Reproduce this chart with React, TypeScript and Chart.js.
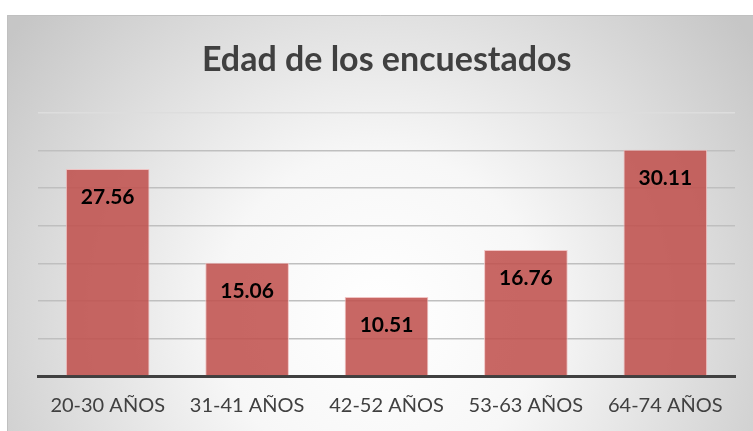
import React, { useEffect, useRef } from "react";
import { Chart, registerables } from "chart.js";

Chart.register(...registerables);

const TITLE = "Edad de los encuestados";
const CATEGORIES = ["20-30 AÑOS", "31-41 AÑOS", "42-52 AÑOS", "53-63 AÑOS", "64-74 AÑOS"];
const VALUES = [27.56, 15.06, 10.51, 16.76, 30.11];
const Y_MIN = 0;
const Y_MAX = 35;
const Y_STEP = 5;

const bgPlugin = {
  id: "bgPlugin",
  beforeDraw(chart: any) {
    const { ctx, width, height } = chart;
    ctx.save();
    const g = ctx.createRadialGradient(width * 0.5, height * 0.72, 0, width * 0.5, height * 0.72, width * 0.62);
    g.addColorStop(0, "#FFFFFF");
    g.addColorStop(0.35, "#F7F7F7");
    g.addColorStop(1, "#C6C6C6");
    ctx.fillStyle = g;
    ctx.fillRect(0, 0, width, height);
    ctx.strokeStyle = "#C0C0C0";
    ctx.lineWidth = 1;
    ctx.beginPath();
    ctx.moveTo(0.5, height);
    ctx.lineTo(0.5, 0.5);
    ctx.lineTo(width, 0.5);
    ctx.stroke();
    ctx.fillStyle = "#404040";
    ctx.font = "bold 34px Lato";
    ctx.textAlign = "center";
    ctx.textBaseline = "middle";
    ctx.fillText(TITLE, width * 0.509, 45);
    ctx.restore();
  },
};

const labelPlugin = {
  id: "labelPlugin",
  afterDatasetsDraw(chart: any) {
    const { ctx } = chart;
    const meta = chart.getDatasetMeta(0);
    ctx.save();
    ctx.fillStyle = "#000000";
    ctx.font = "bold 21px Lato";
    ctx.textAlign = "center";
    ctx.textBaseline = "middle";
    meta.data.forEach((bar: any, i: number) => {
      ctx.fillText(VALUES[i].toFixed(2), bar.x, bar.y + 28);
    });
    ctx.restore();
  },
};

export default function App() {
  const ref = useRef<HTMLCanvasElement>(null);
  useEffect(() => {
    if (!ref.current) return;
    const chart = new Chart(ref.current, {
      type: "bar",
      data: {
        labels: CATEGORIES,
        datasets: [
          {
            data: VALUES,
            backgroundColor: "rgba(192,80,77,0.87)",
            borderColor: "rgba(240,190,190,0.9)",
            borderWidth: 1,
            barPercentage: 0.6,
            categoryPercentage: 1,
          },
        ],
      },
      options: {
        animation: false,
        responsive: false,
        maintainAspectRatio: false,
        layout: { padding: { left: 31, right: 18, top: 98, bottom: 0 } },
        plugins: {
          legend: { display: false },
          title: { display: false },
          tooltip: { enabled: false },
        },
        scales: {
          x: {
            z: 1,
            grid: { display: false, drawTicks: false },
            border: { display: true, color: "#404040", width: 3 },
            ticks: { color: "#404040", font: { family: "Lato", size: 20 }, padding: 18 },
            afterFit: (s: any) => {
              s.height = 55;
            },
          },
          y: {
            min: Y_MIN,
            max: Y_MAX,
            ticks: { display: false, stepSize: Y_STEP },
            grid: {
              drawTicks: false,
              lineWidth: 1.5,
              color: (c: any) => (c.tick && c.tick.value === Y_MAX ? "#DDDDDD" : "#BFBFBF"),
            },
            border: { display: false },
          },
        },
      },
      plugins: [bgPlugin, labelPlugin],
    });
    return () => chart.destroy();
  }, []);
  return (
    <div style={{ position: "absolute", left: 7, top: 15, width: 746, height: 416 }}>
      <canvas ref={ref} width={746} height={416} style={{ display: "block" }} />
    </div>
  );
}
